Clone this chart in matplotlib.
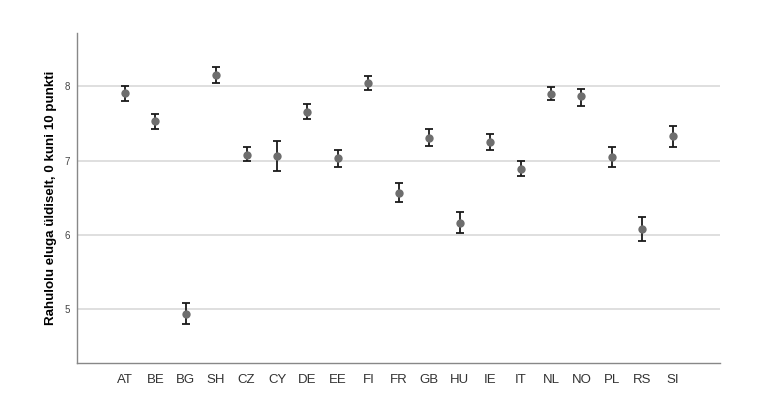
import matplotlib
matplotlib.use("Agg")
import matplotlib.pyplot as plt
import numpy as np

countries = ["AT", "BE", "BG", "SH", "CZ", "CY", "DE", "EE", "FI", "FR",
             "GB", "HU", "IE", "IT", "NL", "NO", "PL", "RS", "SI"]
means = [7.91, 7.53, 4.94, 8.15, 7.08, 7.06, 7.66, 7.03, 8.04, 6.57,
         7.31, 6.16, 7.25, 6.89, 7.90, 7.87, 7.05, 6.08, 7.33]
ci_low = [7.81, 7.43, 4.80, 8.05, 6.99, 6.86, 7.56, 6.91, 7.95, 6.44,
          7.20, 6.02, 7.14, 6.79, 7.82, 7.74, 6.91, 5.92, 7.19]
ci_high = [8.00, 7.63, 5.08, 8.26, 7.18, 7.26, 7.77, 7.14, 8.14, 6.70,
           7.43, 6.31, 7.36, 6.99, 7.99, 7.97, 7.18, 6.24, 7.47]
yticks = [5, 6, 7, 8]
ylabel = "Rahulolu eluga üldiselt, 0 kuni 10 punkti"

plt.rcParams['font.family'] = ['Liberation Sans', 'DejaVu Sans']

fig = plt.figure(figsize=(7.65, 4.15), dpi=100)
ax = fig.add_axes([0.1003, 0.1253, 0.8408, 0.7952])

x = np.arange(len(countries))
m = np.array(means)
lo = m - np.array(ci_low)
hi = np.array(ci_high) - m

ax.errorbar(x, m, yerr=[lo, hi], fmt='none', ecolor='#1a1a1a',
            elinewidth=1.3, capsize=3, capthick=1.3, zorder=3)
ax.plot(x, m, 'o', color='#6e6e6e', markersize=6, zorder=4,
        markeredgewidth=0)

ax.set_xlim(-1.58, len(countries) - 1 + 1.55)
ax.set_ylim(4.276, 8.72)
ax.set_yticks(yticks)
ax.set_yticklabels([str(t) for t in yticks], fontsize=7, color='#444444')
ax.set_xticks(x)
ax.set_xticklabels(countries, fontsize=9.5, color='#333333')
ax.tick_params(axis='both', length=0)
ax.tick_params(axis='x', pad=8)
ax.tick_params(axis='y', pad=5)
ax.yaxis.grid(True, color='#d9d9d9', linewidth=1.2)
ax.set_axisbelow(True)

for s in ['top', 'right']:
    ax.spines[s].set_visible(False)
for s in ['left', 'bottom']:
    ax.spines[s].set_color('#888888')
    ax.spines[s].set_linewidth(1.0)

ax.set_ylabel(ylabel, fontsize=9.6, fontweight='bold', color='black', labelpad=5)

fig.savefig("out.png", dpi=100, facecolor='white')
